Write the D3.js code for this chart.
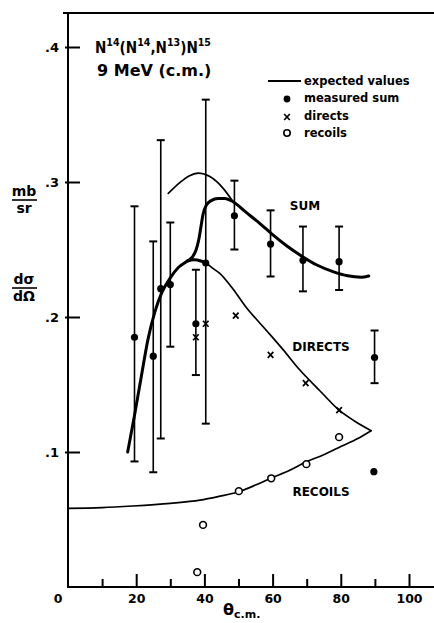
<!DOCTYPE html>
<html>
<head>
<meta charset="utf-8">
<script src="https://cdn.jsdelivr.net/npm/d3@7"></script>
<style>
body { margin: 0; background: #fff; }
svg { display: block; font-family: "DejaVu Sans", sans-serif; font-weight: bold; }
</style>
</head>
<body>
<svg width="434" height="623"></svg>
<script>
(function(d3) {
    "use strict";

// measured sum (filled dots) with error bars
var sumAngles = [19.5, 25, 27.2, 30, 37.5, 40.4, 48.8, 59.4, 68.9, 79.5, 89.9, 89.7],
    sumValues = [0.185, 0.171, 0.221, 0.224, 0.195, 0.240, 0.275, 0.254, 0.242, 0.241, 0.170, 0.0854],
    sumErrLow = [0.093, 0.085, 0.110, 0.178, 0.157, 0.121, 0.250, 0.230, 0.219, 0.220, 0.151, null],
    sumErrHigh = [0.282, 0.256, 0.331, 0.270, 0.235, 0.361, 0.301, 0.279, 0.267, 0.267, 0.190, null];

// directs (x) and recoils (o)
var directAngles = [37.5, 40.4, 49.2, 59.4, 69.7, 79.5],
    directValues = [0.185, 0.195, 0.201, 0.172, 0.151, 0.131],
    recoilAngles = [37.9, 39.6, 50.1, 59.6, 69.9, 79.5],
    recoilValues = [0.011, 0.046, 0.071, 0.0805, 0.091, 0.111];

// expected value curves
var sumCurve = [[17.5, 0.100], [19.5, 0.127], [21.5, 0.156], [23.5, 0.184], [25.5, 0.204], [27.5, 0.218],
        [30, 0.229], [32.5, 0.237], [35, 0.2415], [36.5, 0.2445], [37.6, 0.250], [38.4, 0.258], [39, 0.267],
        [39.6, 0.276], [40.6, 0.283], [42, 0.2862], [44, 0.2878], [46, 0.2878], [48.4, 0.2854], [52, 0.278],
        [56.2, 0.2694], [60, 0.261], [64, 0.253], [68.8, 0.2447], [73, 0.2385], [77.7, 0.2336], [82, 0.2305],
        [86, 0.2295], [88.2, 0.2304]],
    directCurve = [[35, 0.2415], [37, 0.2425], [39, 0.2415], [40.4, 0.240], [42.5, 0.236], [44.5, 0.2323],
        [48, 0.222], [52, 0.208], [58.2, 0.190], [63, 0.176], [68, 0.1607], [74, 0.145], [79.5, 0.131],
        [84, 0.123], [88.9, 0.1158]],
    recoilCurve = [[0, 0.0583], [10, 0.0588], [19, 0.060], [30, 0.062], [38.7, 0.0644], [44, 0.067],
        [50.1, 0.0706], [55, 0.0755], [60.1, 0.0812], [65, 0.0865], [69.9, 0.0928], [75, 0.098], [80, 0.104],
        [85, 0.110], [88.9, 0.1158]],
    upperArc = [[29.4, 0.2916], [32.8, 0.2996], [35.5, 0.3045], [38.2, 0.3066], [41.6, 0.304], [45.5, 0.2953],
        [48.4, 0.2854]];

var xMajor = [20, 40, 60, 80, 100],
    xMinor = [10, 30, 50, 70, 90],
    yTicks = [0.1, 0.2, 0.3, 0.4],
    legendItems = ["expected values", "measured sum", "directs", "recoils"];

var svg = d3.select("svg"),
    x = d3.scaleLinear().domain([0, 100]).range([68, 409]),
    y = d3.scaleLinear().domain([0, 0.4]).range([587, 47]),
    xMax = x.invert(434),
    yMax = y.invert(13),
    line = d3.line().x(function(d) { return x(d[0]); }).y(function(d) { return y(d[1]); })
        .curve(d3.curveMonotoneX);

// frame: left axis, bottom axis, top line
svg.append("path")
    .attr("fill", "none")
    .attr("stroke", "#000")
    .attr("stroke-width", 2)
    .attr("d", "M" + (x(0) - 5) + "," + y(yMax) + "H" + x(xMax) +
        "M" + x(0) + "," + y(yMax) + "V" + y(0) + "H" + x(xMax));

var gx = svg.append("g").attr("transform", "translate(0," + y(0) + ")");
gx.call(d3.axisBottom(x).tickValues(xMajor).tickSize(-13).tickPadding(8).tickFormat(d3.format("d")));
gx.append("g").call(d3.axisBottom(x).tickValues(xMinor).tickSize(-8).tickFormat(""));
gx.selectAll(".domain").remove();
gx.selectAll("line").attr("stroke", "#000").attr("stroke-width", 2);
gx.selectAll("text")
    .attr("font-family", "DejaVu Sans, sans-serif")
    .attr("font-weight", "bold")
    .attr("font-size", 12.5)
    .attr("fill", "#000")
    .attr("dy", "0.6em");

var gy = svg.append("g").attr("transform", "translate(" + x(0) + ",0)");
gy.call(d3.axisLeft(y).tickValues(yTicks).tickSize(-12).tickPadding(9)
    .tickFormat(function(d) { return "." + Math.round(d * 10); }));
gy.select(".domain").remove();
gy.selectAll("line").attr("stroke", "#000").attr("stroke-width", 2).attr("x1", -3);
gy.selectAll("text")
    .attr("font-family", "DejaVu Sans, sans-serif")
    .attr("font-weight", "bold")
    .attr("font-size", 13)
    .attr("fill", "#000");

svg.append("text")
    .attr("x", x(0) - 10)
    .attr("y", y(0) + 16)
    .attr("text-anchor", "middle")
    .attr("font-size", 12.5)
    .text("0");

// axis titles
var xt = svg.append("text")
    .attr("x", 223)
    .attr("y", 615)
    .attr("font-size", 16);
xt.append("tspan").text("θ");
xt.append("tspan").attr("font-size", 11).attr("dy", 3).text("c.m.");

function fraction(top, bottom, cy) {
    svg.append("text").attr("x", 24).attr("y", cy - 4).attr("text-anchor", "middle")
        .attr("font-size", 14).text(top);
    svg.append("line").attr("x1", 12).attr("x2", 37).attr("y1", cy).attr("y2", cy)
        .attr("stroke", "#000").attr("stroke-width", 1.6);
    svg.append("text").attr("x", 24).attr("y", cy + 13).attr("text-anchor", "middle")
        .attr("font-size", 14).text(bottom);
}
fraction("mb", "sr", 200);
fraction("dσ", "dΩ", 288);

// title
var t1 = svg.append("text").attr("x", 95).attr("y", 53).attr("font-size", 15)
    .attr("textLength", 116).attr("lengthAdjust", "spacingAndGlyphs");
[["N", 0], ["14", -7], ["(N", 7], ["14", -7], [",N", 7], ["13", -7], [")N", 7], ["15", -7]]
    .forEach(function(p) {
        t1.append("tspan").attr("dy", p[1]).attr("font-size", p[1] < 0 ? 10.5 : 15).text(p[0]);
    });
svg.append("text").attr("x", 97).attr("y", 76).attr("font-size", 16).text("9 MeV (c.m.)");

// curves
function curve(data, w) {
    svg.append("path")
        .attr("fill", "none")
        .attr("stroke", "#000")
        .attr("stroke-width", w)
        .attr("stroke-linecap", "round")
        .attr("d", line(data));
}
curve(recoilCurve, 1.7);
curve(directCurve, 1.7);
curve(directCurve.filter(function(d) { return d[0] <= 40.4; }), 3);
curve(upperArc, 1.7);
curve(sumCurve, 3);

// error bars
var sumData = sumAngles.map(function(a, i) {
    return {x: a, y: sumValues[i], lo: sumErrLow[i], hi: sumErrHigh[i]};
});
var bars = svg.append("g").attr("stroke", "#000").attr("stroke-width", 1.6)
    .selectAll("g").data(sumData.filter(function(d) { return d.lo !== null; })).enter().append("g");
bars.append("line")
    .attr("x1", function(d) { return x(d.x); }).attr("x2", function(d) { return x(d.x); })
    .attr("y1", function(d) { return y(d.lo); }).attr("y2", function(d) { return y(d.hi); });
bars.selectAll(".cap").data(function(d) { return [[d.x, d.lo], [d.x, d.hi]]; }).enter().append("line")
    .attr("x1", function(d) { return x(d[0]) - 4; }).attr("x2", function(d) { return x(d[0]) + 4; })
    .attr("y1", function(d) { return y(d[1]); }).attr("y2", function(d) { return y(d[1]); })
    .attr("stroke-width", 2);

svg.append("g").selectAll("circle").data(sumData).enter().append("circle")
    .attr("cx", function(d) { return x(d.x); })
    .attr("cy", function(d) { return y(d.y); })
    .attr("r", 3.6)
    .attr("fill", "#000");

// directs
function cross(g, cx, cy) {
    g.append("path")
        .attr("fill", "none")
        .attr("stroke", "#000")
        .attr("stroke-width", 1.7)
        .attr("d", "M" + (cx - 2.8) + "," + (cy - 3) + "L" + (cx + 2.8) + "," + (cy + 3) +
            "M" + (cx + 2.8) + "," + (cy - 3) + "L" + (cx - 2.8) + "," + (cy + 3));
}
var gd = svg.append("g");
directAngles.forEach(function(a, i) { cross(gd, x(a), y(directValues[i])); });

// recoils
svg.append("g").selectAll("circle").data(recoilAngles).enter().append("circle")
    .attr("cx", function(d) { return x(d); })
    .attr("cy", function(d, i) { return y(recoilValues[i]); })
    .attr("r", 3.4)
    .attr("fill", "#fff")
    .attr("stroke", "#000")
    .attr("stroke-width", 1.6);

// curve labels
[["SUM", 305, 210], ["DIRECTS", 321, 351], ["RECOILS", 321, 496]].forEach(function(l) {
    svg.append("text").attr("x", l[1]).attr("y", l[2]).attr("text-anchor", "middle")
        .attr("font-size", 12).text(l[0]);
});

// legend
var lg = svg.append("g").attr("font-size", 11.5);
lg.append("line").attr("x1", 268).attr("x2", 301).attr("y1", 81).attr("y2", 81)
    .attr("stroke", "#000").attr("stroke-width", 1.8);
lg.append("circle").attr("cx", 287).attr("cy", 99).attr("r", 3.4).attr("fill", "#000");
cross(lg, 287, 117);
lg.append("circle").attr("cx", 287).attr("cy", 133).attr("r", 3.2).attr("fill", "#fff")
    .attr("stroke", "#000").attr("stroke-width", 1.6);
lg.selectAll(".item").data(legendItems).enter().append("text")
    .attr("x", 304)
    .attr("y", function(d, i) { return 85 + i * 17.3; })
    .text(function(d) { return d; });

}(d3));
</script>
</body>
</html>
